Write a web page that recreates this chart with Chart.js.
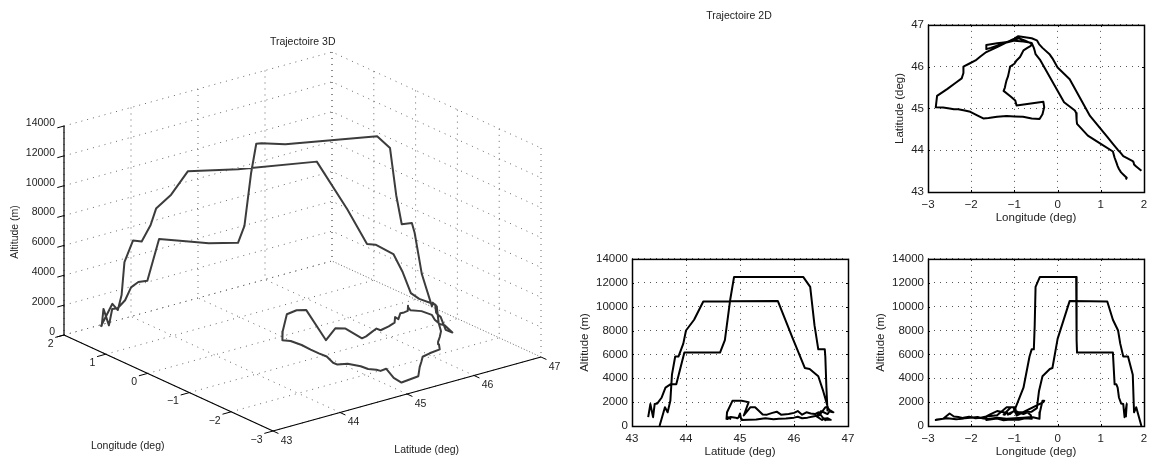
<!DOCTYPE html>
<html>
<head>
<meta charset="utf-8">
<script src="https://cdn.jsdelivr.net/npm/chart.js@4"></script>
<style>
  html, body { margin: 0; background: #fff; }
  canvas { position: absolute; }
</style>
</head>
<body>
<canvas id="traj3d" width="1150" height="461" style="left:0;top:0"></canvas>
<canvas id="lonLat"></canvas>
<canvas id="latAlt"></canvas>
<canvas id="lonAlt"></canvas>
<script>
// one flight, same point order in all three lists
const flightLon = [1.94, 1.82, 1.77, 1.76, 1.74, 1.63, 1.52, 1.45, 1.40, 1.28, 1.15, 0.75, 0.28, 0.00, -0.12, -0.18, -0.35, -0.43, -0.48, -0.60,
  -0.91, -1.00, -1.10, -1.25, -1.40, -1.55, -1.65, -1.65, -1.40, -1.25, -1.10, -0.90, -0.75, -0.60, -0.62, -0.70, -0.79, -0.83, -0.87, -0.95,
  -1.00, -1.10, -1.12, -1.15, -1.18, -1.20, -1.22, -1.25, -1.08, -0.98, -0.95, -0.33, -0.31, -0.35, -0.41, -0.42, -0.60, -0.80, -1.00, -1.18,
  -1.40, -1.60, -1.72, -1.85, -2.02, -2.15, -2.30, -2.40, -2.50, -2.65, -2.82, -2.79, -2.55, -2.35, -2.22, -2.18, -2.18, -2.05, -1.90, -1.78,
  -1.65, -1.40, -1.18, -1.02, -1.00, -0.79, -0.65, -0.60, -0.55, -0.53, -0.51, -0.41, 0.15, 0.40, 0.43, 0.44, 0.44, 0.45, 0.70, 1.00,
  1.28, 1.32, 1.36, 1.39, 1.42, 1.47, 1.52, 1.55, 1.60, 1.58];
const flightLat = [43.51, 43.61, 43.66, 43.71, 43.74, 43.80, 43.86, 43.95, 44.00, 44.15, 44.32, 44.82, 45.70, 45.98, 46.20, 46.29, 46.45, 46.54, 46.63, 46.68,
  46.73, 46.67, 46.62, 46.55, 46.50, 46.45, 46.42, 46.52, 46.56, 46.58, 46.60, 46.68, 46.62, 46.55, 46.50, 46.45, 46.39, 46.31, 46.23, 46.15,
  46.07, 46.00, 45.90, 45.76, 45.68, 45.60, 45.50, 45.42, 45.28, 45.19, 45.07, 45.16, 45.03, 44.86, 44.76, 44.75, 44.76, 44.80, 44.81, 44.82,
  44.80, 44.77, 44.76, 44.83, 44.92, 44.95, 44.98, 44.98, 45.00, 45.02, 45.03, 45.30, 45.47, 45.62, 45.72, 45.85, 46.00, 46.07, 46.15, 46.25,
  46.35, 46.47, 46.58, 46.62, 46.62, 46.60, 46.58, 46.57, 46.45, 46.38, 46.30, 46.17, 45.15, 44.95, 44.89, 44.82, 44.72, 44.63, 44.35, 44.15,
  43.97, 43.82, 43.71, 43.62, 43.55, 43.47, 43.42, 43.39, 43.34, 43.30];
const flightAlt = [0, 1565, 1150, 2110, 4300, 5820, 5820, 6900, 8000, 8900, 10430, 10450, 10480, 7300, 4860, 4780, 4170, 2940, 1500, 1200,
  1150, 1300, 1000, 1150, 1250, 1000, 800, 500, 620, 480, 550, 520, 650, 600, 900, 1150, 1000, 1050, 1150, 950,
  1250, 1100, 1000, 950, 1200, 1100, 950, 960, 1565, 1565, 880, 2000, 2110, 2110, 1150, 600, 760, 700, 640, 600,
  700, 580, 620, 760, 700, 640, 750, 800, 1050, 600, 500, 550, 640, 560, 600, 620, 700, 780, 650, 700,
  800, 900, 1565, 1565, 1290, 3210, 5820, 6420, 6420, 8430, 11660, 12490, 12490, 12490, 12490, 10620, 7190, 6150, 6150, 6150,
  6150, 3490, 3490, 3210, 2390, 1890, 1840, 740, 1840, 740];

const latTicks = [43, 44, 45, 46, 47];
const lonTicks = [-3, -2, -1, 0, 1, 2];
const altTicks = [0, 2000, 4000, 6000, 8000, 10000, 12000, 14000];

const FONT = '"Liberation Sans", Arial, sans-serif';
const INK = '#222';
const minus = v => String(v).replace('-', '\u2212');

// orthographic view of the 3D box
function project(lon, lat, alt) {
  return {
    x: 64 + (2 - lon) * 41.8 + (lat - 43) * 67,
    y: 335 + (2 - lon) * 19.2 - (lat - 43) * 18.5 - alt * 209 / 14000
  };
}

function seg(points, color, width, dash) {
  return {
    data: points.map(p => project(p[0], p[1], p[2])),
    showLine: true, pointRadius: 0, borderColor: color, borderWidth: width,
    borderDash: dash || [], borderJoinStyle: 'round', fill: false, tension: 0
  };
}

const GRID3D = ['#666', 1, [1, 5]];
const sets3d = [];
sets3d.push(seg(flightLon.map((v, i) => [v, flightLat[i], flightAlt[i]]), '#3c3c3c', 2));
// axes
sets3d.push(seg([[2, 43, 14000], [2, 43, 0], [-3, 43, 0], [-3, 47, 0]], '#000', 1.2));
// floor and the two back walls
latTicks.forEach(la => {
  sets3d.push(seg([[-3, la, 0], [2, la, 0], [2, la, 14000]], ...GRID3D));
});
lonTicks.forEach(lo => {
  sets3d.push(seg([[lo, 43, 0], [lo, 47, 0], [lo, 47, 14000]], ...GRID3D));
});
altTicks.forEach(al => {
  sets3d.push(seg([[2, 43, al], [2, 47, al], [-3, 47, al]], ...GRID3D));
});
// tick marks
altTicks.forEach(al => sets3d.push(seg([[2, 43, al], [2, 42.9, al]], '#000', 1)));
lonTicks.forEach(lo => sets3d.push(seg([[lo, 43, 0], [lo, 42.87, 0]], '#000', 1)));
latTicks.forEach(la => sets3d.push(seg([[-3, la, 0], [-3.13, la, 0]], '#000', 1)));

const labels3d = {
  id: 'labels3d',
  afterDraw(chart) {
    const c = chart.ctx;
    c.save();
    c.fillStyle = INK;
    c.font = '10.5px ' + FONT;
    c.textBaseline = 'middle';
    c.textAlign = 'right';
    altTicks.forEach(al => {
      const p = project(2, 43, al);
      c.fillText(al, p.x - 9, p.y - 3);
    });
    lonTicks.forEach(lo => {
      const p = project(lo, 43, 0);
      c.fillText(minus(lo), p.x - 10.5, p.y + 9);
    });
    c.textAlign = 'center';
    latTicks.forEach(la => {
      const p = project(-3, la, 0);
      c.fillText(la, p.x + 13.5, p.y + 10);
    });
    c.fillText('Trajectoire 3D', 302.7, 42.5);
    c.fillText('Trajectoire 2D', 739, 16);
    c.fillText('Longitude (deg)', 127.7, 445.7);
    c.fillText('Latitude (deg)', 426.7, 450);
    c.translate(15, 232);
    c.rotate(-Math.PI / 2);
    c.fillText('Altitude (m)', 0, 0);
    c.restore();
  }
};

new Chart(document.getElementById('traj3d'), {
  type: 'scatter',
  data: { datasets: sets3d },
  plugins: [labels3d],
  options: {
    responsive: false,
    animation: false,
    layout: { padding: 0, autoPadding: false },
    plugins: { legend: { display: false }, tooltip: { enabled: false } },
    scales: {
      x: { display: false, min: 0, max: 1150 },
      y: { display: false, min: 0, max: 461, reverse: true }
    }
  }
});

// black box with short inward ticks, matlab style
const boxFrame = {
  id: 'boxFrame',
  afterDraw(chart) {
    const c = chart.ctx, a = chart.chartArea;
    c.save();
    c.strokeStyle = '#000';
    c.lineWidth = 1.5;
    c.strokeRect(a.left + 0.5, a.top + 0.5, a.right - a.left, a.bottom - a.top);
    c.lineWidth = 1;
    c.beginPath();
    chart.scales.x.ticks.forEach(t => {
      const px = Math.round(chart.scales.x.getPixelForValue(t.value)) + 0.5;
      c.moveTo(px, a.bottom); c.lineTo(px, a.bottom - 2);
      c.moveTo(px, a.top); c.lineTo(px, a.top + 2);
    });
    chart.scales.y.ticks.forEach(t => {
      const py = Math.round(chart.scales.y.getPixelForValue(t.value)) + 0.5;
      c.moveTo(a.left, py); c.lineTo(a.left + 2, py);
      c.moveTo(a.right, py); c.lineTo(a.right - 2, py);
    });
    c.stroke();
    c.restore();
  }
};

function axis(title, ticks, pad, size) {
  return {
    type: 'linear',
    min: ticks[0],
    max: ticks[ticks.length - 1],
    afterBuildTicks: s => { s.ticks = ticks.map(v => ({ value: v })); },
    afterFit: s => { if (s.isHorizontal()) s.height = size; else s.width = size; },
    title: { display: true, text: title, color: INK, font: { family: FONT, size: 11.5 }, padding: 0 },
    ticks: {
      color: INK, padding: pad, maxRotation: 0, autoSkip: false,
      font: { family: FONT, size: 11.5 }, callback: v => minus(v)
    },
    grid: { color: '#555', lineWidth: 1, drawTicks: false },
    border: { display: false, dash: [1, 5] }
  };
}

function panel(id, box, xs, ys, xTitle, yTitle, xTicks, yTicks, leftRoom) {
  const cv = document.getElementById(id);
  const w = box.w + leftRoom + 14, h = box.h + 8 + 33;
  cv.width = w; cv.height = h;
  cv.style.left = (box.x - leftRoom) + 'px';
  cv.style.top = (box.y - 8) + 'px';
  new Chart(cv, {
    type: 'scatter',
    data: {
      datasets: [{
        data: xs.map((v, i) => ({ x: v, y: ys[i] })),
        showLine: true, pointRadius: 0, borderColor: '#000', borderWidth: 2,
        borderJoinStyle: 'round', tension: 0
      }]
    },
    plugins: [boxFrame],
    options: {
      responsive: false,
      animation: false,
      layout: { padding: { top: 8, right: 14, left: 0, bottom: 0 }, autoPadding: false },
      plugins: { legend: { display: false }, tooltip: { enabled: false } },
      scales: {
        x: axis(xTitle, xTicks, 6, 33),
        y: axis(yTitle, yTicks, 4, leftRoom)
      }
    }
  });
}

panel('lonLat', { x: 928, y: 22, w: 216, h: 170 }, flightLon, flightLat, 'Longitude (deg)', 'Latitude (deg)', lonTicks, latTicks, 35);
panel('latAlt', { x: 632, y: 256, w: 216, h: 170 }, flightLat, flightAlt, 'Latitude (deg)', 'Altitude (m)', latTicks, altTicks, 54);
panel('lonAlt', { x: 928, y: 256, w: 216, h: 170 }, flightLon, flightAlt, 'Longitude (deg)', 'Altitude (m)', lonTicks, altTicks, 54);
</script>
</body>
</html>
